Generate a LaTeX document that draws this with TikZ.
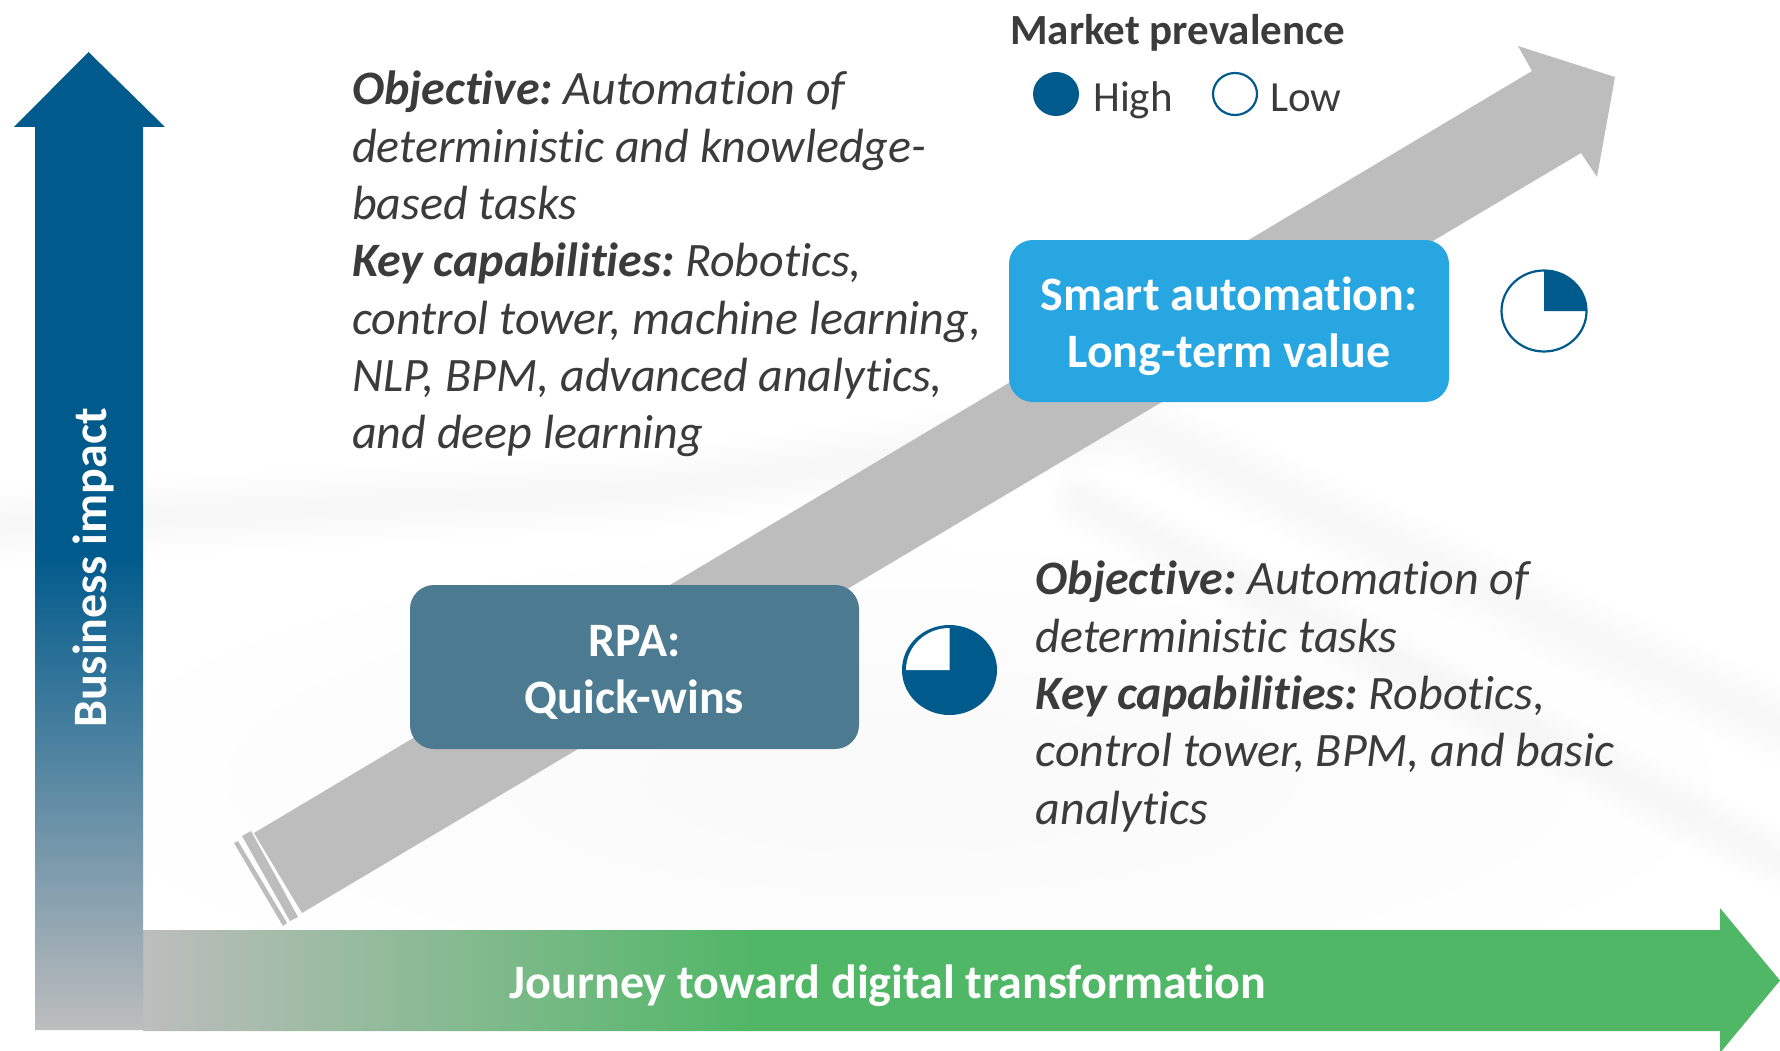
\documentclass[tikz,border=0pt]{standalone}
\usepackage{fontspec}
\setmainfont[Ligatures=NoCommon]{Carlito}
\definecolor{deepblue}{HTML}{005A8C}
\definecolor{midgray}{HTML}{BDBDBD}
\definecolor{arrowgreen}{HTML}{50B766}
\definecolor{skyfill}{HTML}{27A6E1}
\definecolor{slatefill}{HTML}{4C7A90}
\definecolor{inkgray}{HTML}{3B3B3B}
\pgfdeclarehorizontalshading{greenfade}{100bp}{color(0bp)=(midgray); color(25bp)=(midgray); color(43.65bp)=(arrowgreen); color(100bp)=(arrowgreen)}
\pgfdeclareverticalshading{bluefade}{100bp}{color(0bp)=(midgray); color(25bp)=(midgray); color(49.4bp)=(deepblue); color(100bp)=(deepblue)}
\tikzset{
  bodytext/.style={font=\fontsize{48}{57.3}\selectfont\itshape, text=inkgray, align=left, inner sep=0pt},
  boxshape/.style={rounded corners=24pt, inner sep=0pt},
  boxlabel/.style={text=white, align=center, font=\fontsize{48}{57.3}\selectfont\bfseries, inner sep=0pt},
  axislabel/.style={text=white, font=\fontsize{48}{50}\selectfont\bfseries, inner sep=0pt},
  legendtext/.style={text=inkgray, font=\fontsize{43}{44}\selectfont, inner sep=0pt},
  piering/.style={draw=deepblue, line width=2.2pt, fill=white},
  ghost/.style={draw=black, draw opacity=0.005, line join=round, line cap=round}
}
\newcommand{\boldlead}[1]{\textbf{#1}\kern-3.5pt\relax}
\begin{document}
\begin{tikzpicture}[x=1pt,y=-1pt]
\useasboundingbox (0,0) rectangle (1780,1051);
\clip (0,0) rectangle (1780,1051);
\fill[white] (0,0) rectangle (1780,1051);
% faint watermark
\shade[inner color=black!2.5, outer color=white] (900,780) ellipse [x radius=880, y radius=250];
\foreach \w in {20,30,...,80} {
  \draw[ghost, line width=\w pt] (0,525) -- (650,490) -- (1130,425) -- (1780,725);
  \draw[ghost, line width=0.8*\w pt, draw opacity=0.003] (1080,500) -- (1780,860);
}
% gray arrow
\fill[midgray] (254,833) -- (1532,71) -- (1518,46) -- (1615,77) -- (1597,177) -- (1581,153) -- (302,913) -- cycle;
\fill[midgray] (242,836) -- (251,831) -- (298,917) -- (290,921) -- cycle;
\fill[midgray] (234,843) -- (238,841) -- (287,923) -- (283,926) -- cycle;
% green arrow
\shade[shading=greenfade] (143,930) -- (1720,930) -- (1720,908) -- (1780,980.5) -- (1720,1053) -- (1720,1031) -- (143,1031) -- cycle;
% blue arrow
\shade[shading=bluefade] (35,1030) -- (35,127) -- (14,127) -- (88.5,52) -- (165,127) -- (143,127) -- (143,1030) -- cycle;
% labels on arrows
\node[axislabel, rotate=90] (impact) at (93,568) {Business impact};
\node[axislabel] (journey) at (888,986) {Journey toward digital transformation};
% boxes
\node[boxshape, fill=skyfill, minimum width=440pt, minimum height=162pt] (smart) at (1229,321) {};
\node[boxlabel] (smarttext) at ([yshift=-5.5pt]smart.center) {Smart automation:\\Long-term value};
\node[boxshape, fill=slatefill, minimum width=449pt, minimum height=164pt] (rpa) at (634.5,667) {};
\node[boxlabel] (rpatext) at ([yshift=-5.5pt]rpa.center) {RPA:\\Quick-wins};
% pies
\draw[piering] (1544,311) ellipse [x radius=42.5, y radius=40.5];
\fill[deepblue] (1544,311) -- (1544,271) arc [start angle=90, end angle=0, x radius=42, y radius=-40] -- cycle;
\fill[deepblue] (949.5,670) ellipse [x radius=47.5, y radius=45];
\fill[white] (949.5,670) -- (906,670) arc [start angle=180, end angle=90, x radius=43.5, y radius=-42] -- cycle;
% legend
\node[legendtext, font=\fontsize{43}{44}\selectfont\bfseries, anchor=base west] (legend) at (1010,45) {Market prevalence};
\fill[deepblue] (1056,94) ellipse [x radius=23, y radius=22];
\node[legendtext, anchor=base west] (high) at (1093,112) {High};
\draw[piering, fill=white] (1235,94) ellipse [x radius=22, y radius=21];
\node[legendtext, anchor=base west] (low) at (1270,112) {Low};
% body text
\node[bodytext, anchor=north west] (obj1) at (352,71) {\boldlead{Objective:} Automation of\\deterministic and knowledge-\\based tasks\\\boldlead{Key capabilities:} Robotics,\\control tower, machine learning,\\NLP, BPM, advanced analytics,\\and deep learning};
\node[bodytext, anchor=north west] (obj2) at (1035.5,561) {\boldlead{Objective:} Automation of\\deterministic tasks\\\boldlead{Key capabilities:} Robotics,\\control tower, BPM, and basic\\analytics};
\end{tikzpicture}
\end{document}
